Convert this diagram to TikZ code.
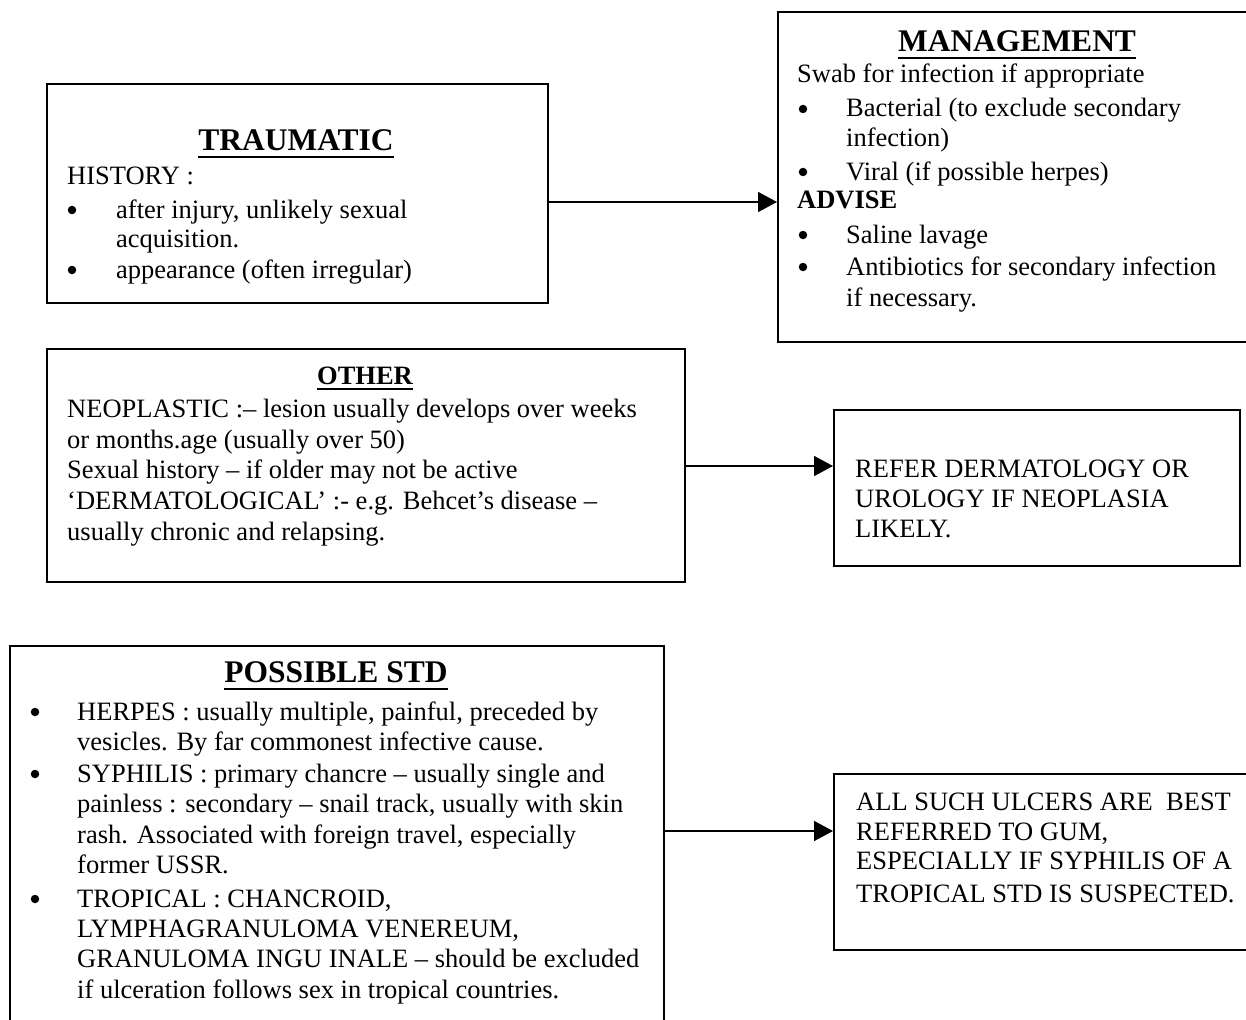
\documentclass[tikz,border=0pt]{standalone}
\usepackage{fontspec}
\setmainfont{Liberation Serif}
\usetikzlibrary{arrows.meta}
\newcommand\bodyf{\fontsize{26.5}{31}\selectfont}
\newcommand\titlef{\fontsize{31.5}{36}\selectfont\bfseries}
\newcommand\smalltitlef{\fontsize{26.5}{31}\selectfont\bfseries}
\tikzset{
  box/.style={draw=black, line width=2pt, anchor=north west, inner sep=0pt},
  tl/.style={anchor=base west, inner sep=0pt, font=\bodyf},
  tlb/.style={anchor=base west, inner sep=0pt, font=\smalltitlef},
  dot/.style={circle, fill=black, inner sep=0pt, minimum size=8.5pt},
  ttl/.style={anchor=base, inner sep=0pt, font=\titlef},
  sttl/.style={anchor=base, inner sep=0pt, font=\smalltitlef},
  uline/.style={line width=2.6pt},
  conn/.style={line width=1.6pt, -{Triangle[length=19pt,width=20pt]}}
}
\begin{document}
\begin{tikzpicture}[x=1pt,y=-1pt]
\useasboundingbox (0,0) rectangle (1246,1019);
\clip (0,0) rectangle (1246,1019);
% boxes
\node[box, minimum width=501pt, minimum height=219pt] (trau) at (46,83) {};
\node[box, minimum width=490pt, minimum height=330pt] (mgmt) at (777,11) {};
\node[box, minimum width=638pt, minimum height=233pt] (other) at (46,348) {};
\node[box, minimum width=406pt, minimum height=156pt] (refer) at (833,409) {};
\node[box, minimum width=654pt, minimum height=420pt] (std) at (9,645) {};
\node[box, minimum width=440pt, minimum height=176pt] (allsuch) at (833,773) {};

% TRAUMATIC
\node[ttl] (traut) at (296,151) {TRAUMATIC};
\draw[uline] ([yshift=-6pt]traut.base west) -- ([yshift=-6pt]traut.base east);
\node[tl] (trau1) at (67,184) {HISTORY :};
\node[dot] (traub1) at (72,210) {};
\node[tl] (trau2) at (116,218) {after injury, unlikely sexual};
\node[tl] (trau3) at (116,247) {acquisition.};
\node[dot] (traub2) at (72,270) {};
\node[tl] (trau4) at (116,278) {appearance (often irregular)};

% MANAGEMENT
\node[ttl] (mgmtt) at (1017,52) {MANAGEMENT};
\draw[uline] ([yshift=-6pt]mgmtt.base west) -- ([yshift=-6pt]mgmtt.base east);
\node[tl] (m1) at (797,83) {Swab for infection if appropriate};
\node[dot] (mb1) at (803,109) {};
\node[tl] (m2) at (846,117) {Bacterial (to exclude secondary};
\node[tl] (m3) at (846,147) {infection)};
\node[dot] (mb2) at (803,172) {};
\node[tl] (m4) at (846,180) {Viral (if possible herpes)};
\node[tlb] (m5) at (797,208) {ADVISE};
\node[dot] (mb3) at (803,235) {};
\node[tl] (m6) at (846,243) {Saline lavage};
\node[dot] (mb4) at (803,267) {};
\node[tl] (m7) at (846,275) {Antibiotics for secondary infection};
\node[tl] (m8) at (846,306) {if necessary.};

% OTHER
\node[sttl] (othert) at (365,384) {OTHER};
\draw[line width=2pt] ([yshift=-5pt]othert.base west) -- ([yshift=-5pt]othert.base east);
\node[tl] (o1) at (67,417) {NEOPLASTIC :– lesion usually develops over weeks};
\node[tl] (o2) at (67,448) {or months.age (usually over 50)};
\node[tl] (o3) at (67,478) {Sexual history – if older may not be active};
\node[tl] (o4) at (67,509) {‘DERMATOLOGICAL’ :- e.g. Behcet’s disease –};
\node[tl] (o5) at (67,540) {usually chronic and relapsing.};

% REFER
\node[tl] (r1) at (855,477) {REFER DERMATOLOGY OR};
\node[tl] (r2) at (855,507) {UROLOGY IF NEOPLASIA};
\node[tl] (r3) at (855,537) {LIKELY.};

% POSSIBLE STD
\node[ttl] (stdt) at (336,682) {POSSIBLE STD};
\draw[uline] ([yshift=-7pt]stdt.base west) -- ([yshift=-7pt]stdt.base east);
\node[dot] (sb1) at (35,712) {};
\node[tl] (s1) at (77,720) {HERPES : usually multiple, painful, preceded by};
\node[tl] (s2) at (77,750) {vesicles. By far commonest infective cause.};
\node[dot] (sb2) at (35,774) {};
\node[tl] (s3) at (77,782) {SYPHILIS : primary chancre – usually single and};
\node[tl] (s4) at (77,812) {painless : secondary – snail track, usually with skin};
\node[tl] (s5) at (77,843) {rash. Associated with foreign travel, especially};
\node[tl] (s6) at (77,873) {former USSR.};
\node[dot] (sb3) at (35,899) {};
\node[tl] (s7) at (77,907) {TROPICAL : CHANCROID,};
\node[tl] (s8) at (77,937) {LYMPHAGRANULOMA VENEREUM,};
\node[tl] (s9) at (77,967) {GRANULOMA INGU INALE – should be excluded};
\node[tl] (s10) at (77,998) {if ulceration follows sex in tropical countries.};

% ALL SUCH
\node[tl] (a1) at (856,810) {ALL SUCH ULCERS ARE\ \ BEST};
\node[tl] (a2) at (856,840) {REFERRED TO GUM,};
\node[tl] (a3) at (856,869) {ESPECIALLY IF SYPHILIS OF A};
\node[tl] (a4) at (856,902) {TROPICAL STD IS SUSPECTED.};

% connectors
\coordinate (y1) at (0,202);
\coordinate (y2) at (0,466);
\coordinate (y3) at (0,831);
\draw[conn] (trau.east |- y1) -- (mgmt.west |- y1);
\draw[conn] (other.east |- y2) -- (refer.west |- y2);
\draw[conn] (std.east |- y3) -- (allsuch.west |- y3);
\end{tikzpicture}
\end{document}
